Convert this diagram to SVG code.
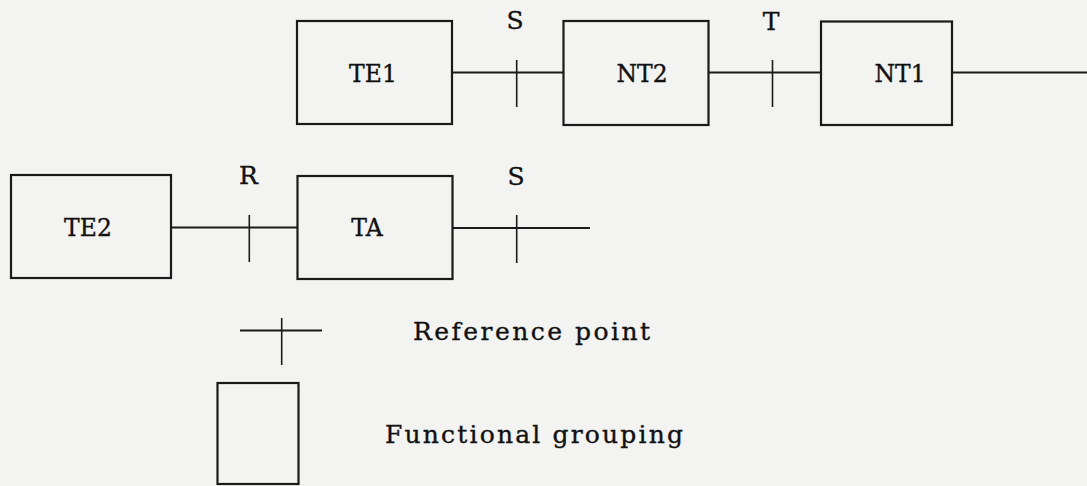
<svg xmlns="http://www.w3.org/2000/svg" width="1087" height="486" viewBox="0 0 1087 486">
<style>
.box{fill:none;stroke:#1a1a1a;stroke-width:2.2}
.ln{stroke:#1a1a1a;stroke-width:2;fill:none}
.tk{stroke:#1a1a1a;stroke-width:1.6;fill:none}
text{font-family:"DejaVu Serif","Liberation Serif",serif;font-size:25px;fill:#111;stroke:#111;stroke-width:0.35}
.c{text-anchor:middle}
.n{font-size:23.5px}
</style>
<rect x="0" y="0" width="1087" height="486" fill="#f3f3f1"/>
<g id="TE1"><rect class="box" x="297" y="21" width="155" height="103"/><text class="c n" x="373" y="82">TE1</text></g>
<g id="NT2"><rect class="box" x="563.5" y="21" width="145" height="104"/><text class="c n" x="642" y="82">NT2</text></g>
<g id="NT1"><rect class="box" x="821" y="21.5" width="131" height="103.5"/><text class="c n" x="900" y="82">NT1</text></g>
<g id="TE2"><rect class="box" x="11" y="175" width="160" height="103"/><text class="c n" x="88" y="236">TE2</text></g>
<g id="TA"><rect class="box" x="297.5" y="176" width="155" height="103"/><text class="c n" x="367" y="236">TA</text></g>
<g id="connectors">
<line class="ln" x1="452" y1="72.5" x2="563.5" y2="72.5"/>
<line class="tk" x1="516.7" y1="60" x2="516.7" y2="107"/>
<line class="ln" x1="708.5" y1="72.5" x2="821" y2="72.5"/>
<line class="tk" x1="772.5" y1="60" x2="772.5" y2="107"/>
<line class="ln" x1="952" y1="72.5" x2="1087" y2="72.5"/>
<line class="ln" x1="171" y1="227.5" x2="297.5" y2="227.5"/>
<line class="tk" x1="249.3" y1="215" x2="249.3" y2="262"/>
<line class="ln" x1="452.5" y1="228" x2="590" y2="228"/>
<line class="tk" x1="516.7" y1="215" x2="516.7" y2="263"/>
</g>
<g id="labels">
<text class="c" x="515" y="29" font-size="23">S</text>
<text class="c" x="771" y="30" font-size="23">T</text>
<text class="c" x="248.5" y="184" font-size="23">R</text>
<text class="c" x="516" y="185" font-size="23">S</text>
</g>
<g id="legend">
<line class="ln" x1="240" y1="330.5" x2="322" y2="330.5"/>
<line class="tk" x1="281.7" y1="318" x2="281.7" y2="365"/>
<text x="413" y="340" textLength="237" lengthAdjust="spacing">Reference point</text>
<rect class="box" x="217.5" y="383" width="81" height="101"/>
<text x="385" y="443" textLength="298" lengthAdjust="spacing">Functional grouping</text>
</g>
</svg>
